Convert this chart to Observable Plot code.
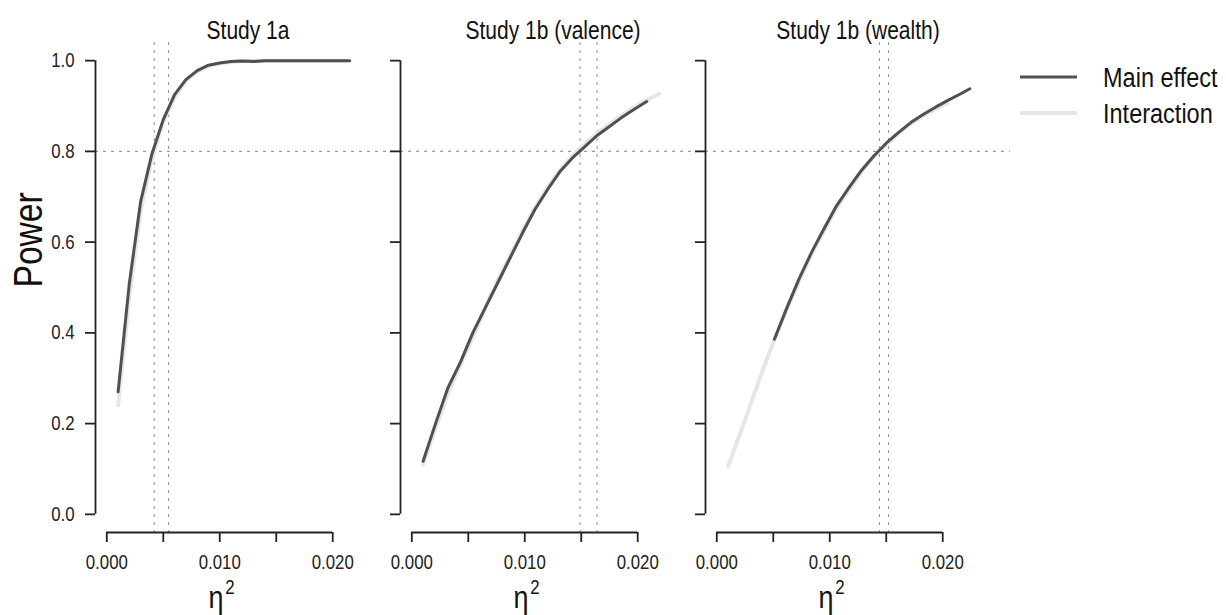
<!DOCTYPE html>
<html>
<head>
<meta charset="utf-8">
<script src="https://cdn.jsdelivr.net/npm/d3@7"></script>
<script src="https://cdn.jsdelivr.net/npm/@observablehq/plot@0.6"></script>
<style>
  html, body { margin: 0; padding: 0; background: #fff; overflow: hidden; }
  #wrap { position: relative; width: 1226px; height: 615px; font-family: "Liberation Sans", Arial, Helvetica, sans-serif; }
  #legend { position: absolute; left: 1020px; top: 55px; overflow: visible; }
</style>
</head>
<body>
<div id="wrap"></div>
<script>
const studies = ["Study 1a", "Study 1b (valence)", "Study 1b (wealth)"];
const seriesNames = ["Main effect", "Interaction"];
const xTicks = [0, 0.005, 0.010, 0.015, 0.020];
const xTickLabels = [0, 0.010, 0.020];
const yTicks = [0, 0.2, 0.4, 0.6, 0.8, 1.0];
const powerTarget = 0.8;

// Study 1a
const s1aMainEta = [0.001,0.002,0.003,0.004,0.005,0.006,0.007,0.008,0.009,0.010,0.011,0.012,0.013,0.014,0.015,0.016,0.017,0.018,0.019,0.020,0.0215];
const s1aMainPow = [0.27,0.51,0.69,0.795,0.87,0.925,0.958,0.978,0.99,0.995,0.998,0.999,0.998,1,1,1,1,1,1,1,1];
const s1aInterEta = [0.001,0.002,0.003,0.004,0.005,0.006,0.007,0.008,0.009,0.010,0.011,0.012,0.013,0.014,0.015,0.016,0.017,0.018,0.019,0.020,0.021];
const s1aInterPow = [0.24,0.48,0.67,0.785,0.865,0.92,0.955,0.976,0.988,0.994,0.997,0.999,0.999,1,1,1,1,1,1,1,1];

// Study 1b (valence)
const valMainEta = [0.001,0.0021,0.0032,0.0043,0.0054,0.0065,0.0076,0.0087,0.0098,0.0109,0.012,0.0131,0.0142,0.0153,0.0164,0.0175,0.0186,0.0197,0.0208];
const valMainPow = [0.117,0.20,0.279,0.335,0.40,0.455,0.51,0.565,0.62,0.672,0.715,0.755,0.785,0.81,0.835,0.855,0.875,0.893,0.91];
const valInterEta = [0.001,0.0021,0.0032,0.0043,0.0054,0.0065,0.0076,0.0087,0.0098,0.0109,0.012,0.0131,0.0142,0.0153,0.0164,0.0175,0.0186,0.0197,0.0208,0.0219];
const valInterPow = [0.11,0.19,0.265,0.33,0.39,0.455,0.515,0.57,0.625,0.675,0.72,0.757,0.79,0.815,0.84,0.86,0.88,0.898,0.913,0.927];

// Study 1b (wealth)
const wlhMainEta = [0.0051,0.0062,0.0073,0.0084,0.0095,0.0106,0.0117,0.0128,0.0139,0.015,0.0161,0.0172,0.0183,0.0194,0.0205,0.0216,0.0224];
const wlhMainPow = [0.386,0.455,0.52,0.578,0.63,0.68,0.72,0.758,0.79,0.818,0.842,0.864,0.882,0.898,0.913,0.927,0.938];
const wlhInterEta = [0.001,0.0021,0.0031,0.0041,0.0051,0.0062,0.0073,0.0084,0.0095,0.0106,0.0117,0.0128,0.0139,0.015,0.0161,0.0172,0.0183,0.0194,0.0204];
const wlhInterPow = [0.106,0.18,0.25,0.32,0.385,0.452,0.515,0.574,0.625,0.675,0.716,0.755,0.788,0.816,0.84,0.862,0.879,0.894,0.906];

// reference eta values (dotted verticals)
const refStudy = ["Study 1a","Study 1a","Study 1b (valence)","Study 1b (valence)","Study 1b (wealth)","Study 1b (wealth)"];
const refEta = [0.0042,0.00547,0.0149,0.0164,0.0144,0.0152];

const mainColor = "#505050";
const interColor = "#e6e6e6";
const axisColor = "#222";
const refColor = "#9a9a9a";
const squeeze = 0.84;

function rows(study, series, etas, pows) {
  return etas.map((e, i) => ({study, series, eta: e, power: pows[i]}));
}
const data = [
  ...rows(studies[0], "Main effect", s1aMainEta, s1aMainPow),
  ...rows(studies[0], "Interaction", s1aInterEta, s1aInterPow),
  ...rows(studies[1], "Main effect", valMainEta, valMainPow),
  ...rows(studies[1], "Interaction", valInterEta, valInterPow),
  ...rows(studies[2], "Main effect", wlhMainEta, wlhMainPow),
  ...rows(studies[2], "Interaction", wlhInterEta, wlhInterPow)
];
const mainData = data.filter(d => d.series === "Main effect");
const interData = data.filter(d => d.series === "Interaction");
const refs = refStudy.map((s, i) => ({study: s, eta: refEta[i]}));

const font = "Liberation Sans, Arial, Helvetica, sans-serif";

const chart = Plot.plot({
  width: 1226,
  height: 615,
  marginLeft: 95,
  marginRight: 216,
  marginTop: 42,
  marginBottom: 83,
  style: {fontFamily: font, background: "#fff", color: "#111", overflow: "visible"},
  fx: {domain: studies, padding: 0, axis: null},
  x: {domain: [-0.001, 0.026], axis: null},
  y: {domain: [-0.04, 1.04], axis: null},
  marks: [
    Plot.ruleY([powerTarget], {stroke: refColor, strokeWidth: 1.1, strokeDasharray: "3,5"}),
    Plot.ruleX(refs, {fx: "study", x: "eta", stroke: refColor, strokeWidth: 1.1, strokeDasharray: "3,5"}),
    Plot.line(interData, {fx: "study", x: "eta", y: "power", stroke: interColor, strokeWidth: 4}),
    Plot.line(mainData, {fx: "study", x: "eta", y: "power", stroke: mainColor, strokeWidth: 3}),
    Plot.ruleX([-0.001], {y1: 0, y2: 1, stroke: axisColor, strokeWidth: 1.8}),
    Plot.ruleY([-0.04], {x1: 0, x2: 0.02, stroke: axisColor, strokeWidth: 1.8}),
    Plot.axisY({ticks: yTicks, tickSize: 10, tickFormat: () => "", facetAnchor: null, label: null, stroke: axisColor, strokeWidth: 1.8}),
    Plot.axisY({ticks: yTicks, tickSize: 0, tickPadding: 21, tickFormat: d => d.toFixed(1), label: null, fontSize: 20, fill: "#222"}),
    Plot.axisX({ticks: xTicks, tickSize: 10, tickPadding: 12, label: null, fontSize: 20, fill: "#222", stroke: axisColor, strokeWidth: 1.8,
      tickFormat: d => xTickLabels.some(v => Math.abs(v - d) < 1e-9) ? d.toFixed(3) : ""}),
    Plot.axisFx({anchor: "top", tickSize: 0, tickPadding: 4, label: null, fontSize: 25, fill: "#111"}),
    Plot.text(["Power"], {fx: () => studies[0], frameAnchor: "left", text: d => d, rotate: -90, dx: -66, fontSize: 40, fill: "#111"}),
    Plot.text(studies, {fx: d => d, frameAnchor: "bottom", text: () => "η", dx: -32, dy: 75, lineAnchor: "bottom", fontSize: 32, fill: "#111"}),
    Plot.text(studies, {fx: d => d, frameAnchor: "bottom", text: () => "2", dx: -18, dy: 61, lineAnchor: "bottom", fontSize: 20, fill: "#111"})
  ]
});
const wrap = document.getElementById("wrap");
wrap.appendChild(chart);

// narrow the sans-serif glyphs like the original (condensed Helvetica look)
function narrow(root) {
  root.querySelectorAll("text").forEach(t => {
    if (!t.textContent) return;
    const w = t.getComputedTextLength();
    if (w > 0) {
      t.setAttribute("textLength", (w * squeeze).toFixed(2));
      t.setAttribute("lengthAdjust", "spacingAndGlyphs");
    }
  });
}
narrow(chart);

// legend (SVG, outside the plot frame on the right); text narrowed by a horizontal scale
const lg = d3.create("svg").attr("id", "legend").attr("width", 206).attr("height", 80)
  .style("font-family", font);
const colors = {"Main effect": [mainColor, 3], "Interaction": [interColor, 4]};
seriesNames.forEach((name, i) => {
  const y = 22 + i * 36;
  lg.append("line").attr("x1", 0).attr("x2", 57).attr("y1", y).attr("y2", y)
    .attr("stroke", colors[name][0]).attr("stroke-width", colors[name][1]);
  lg.append("text").attr("transform", `translate(83,${y}) scale(${squeeze},1)`).attr("dy", "0.35em")
    .attr("font-size", 28).attr("fill", "#111").text(name);
});
wrap.appendChild(lg.node());
</script>
</body>
</html>
